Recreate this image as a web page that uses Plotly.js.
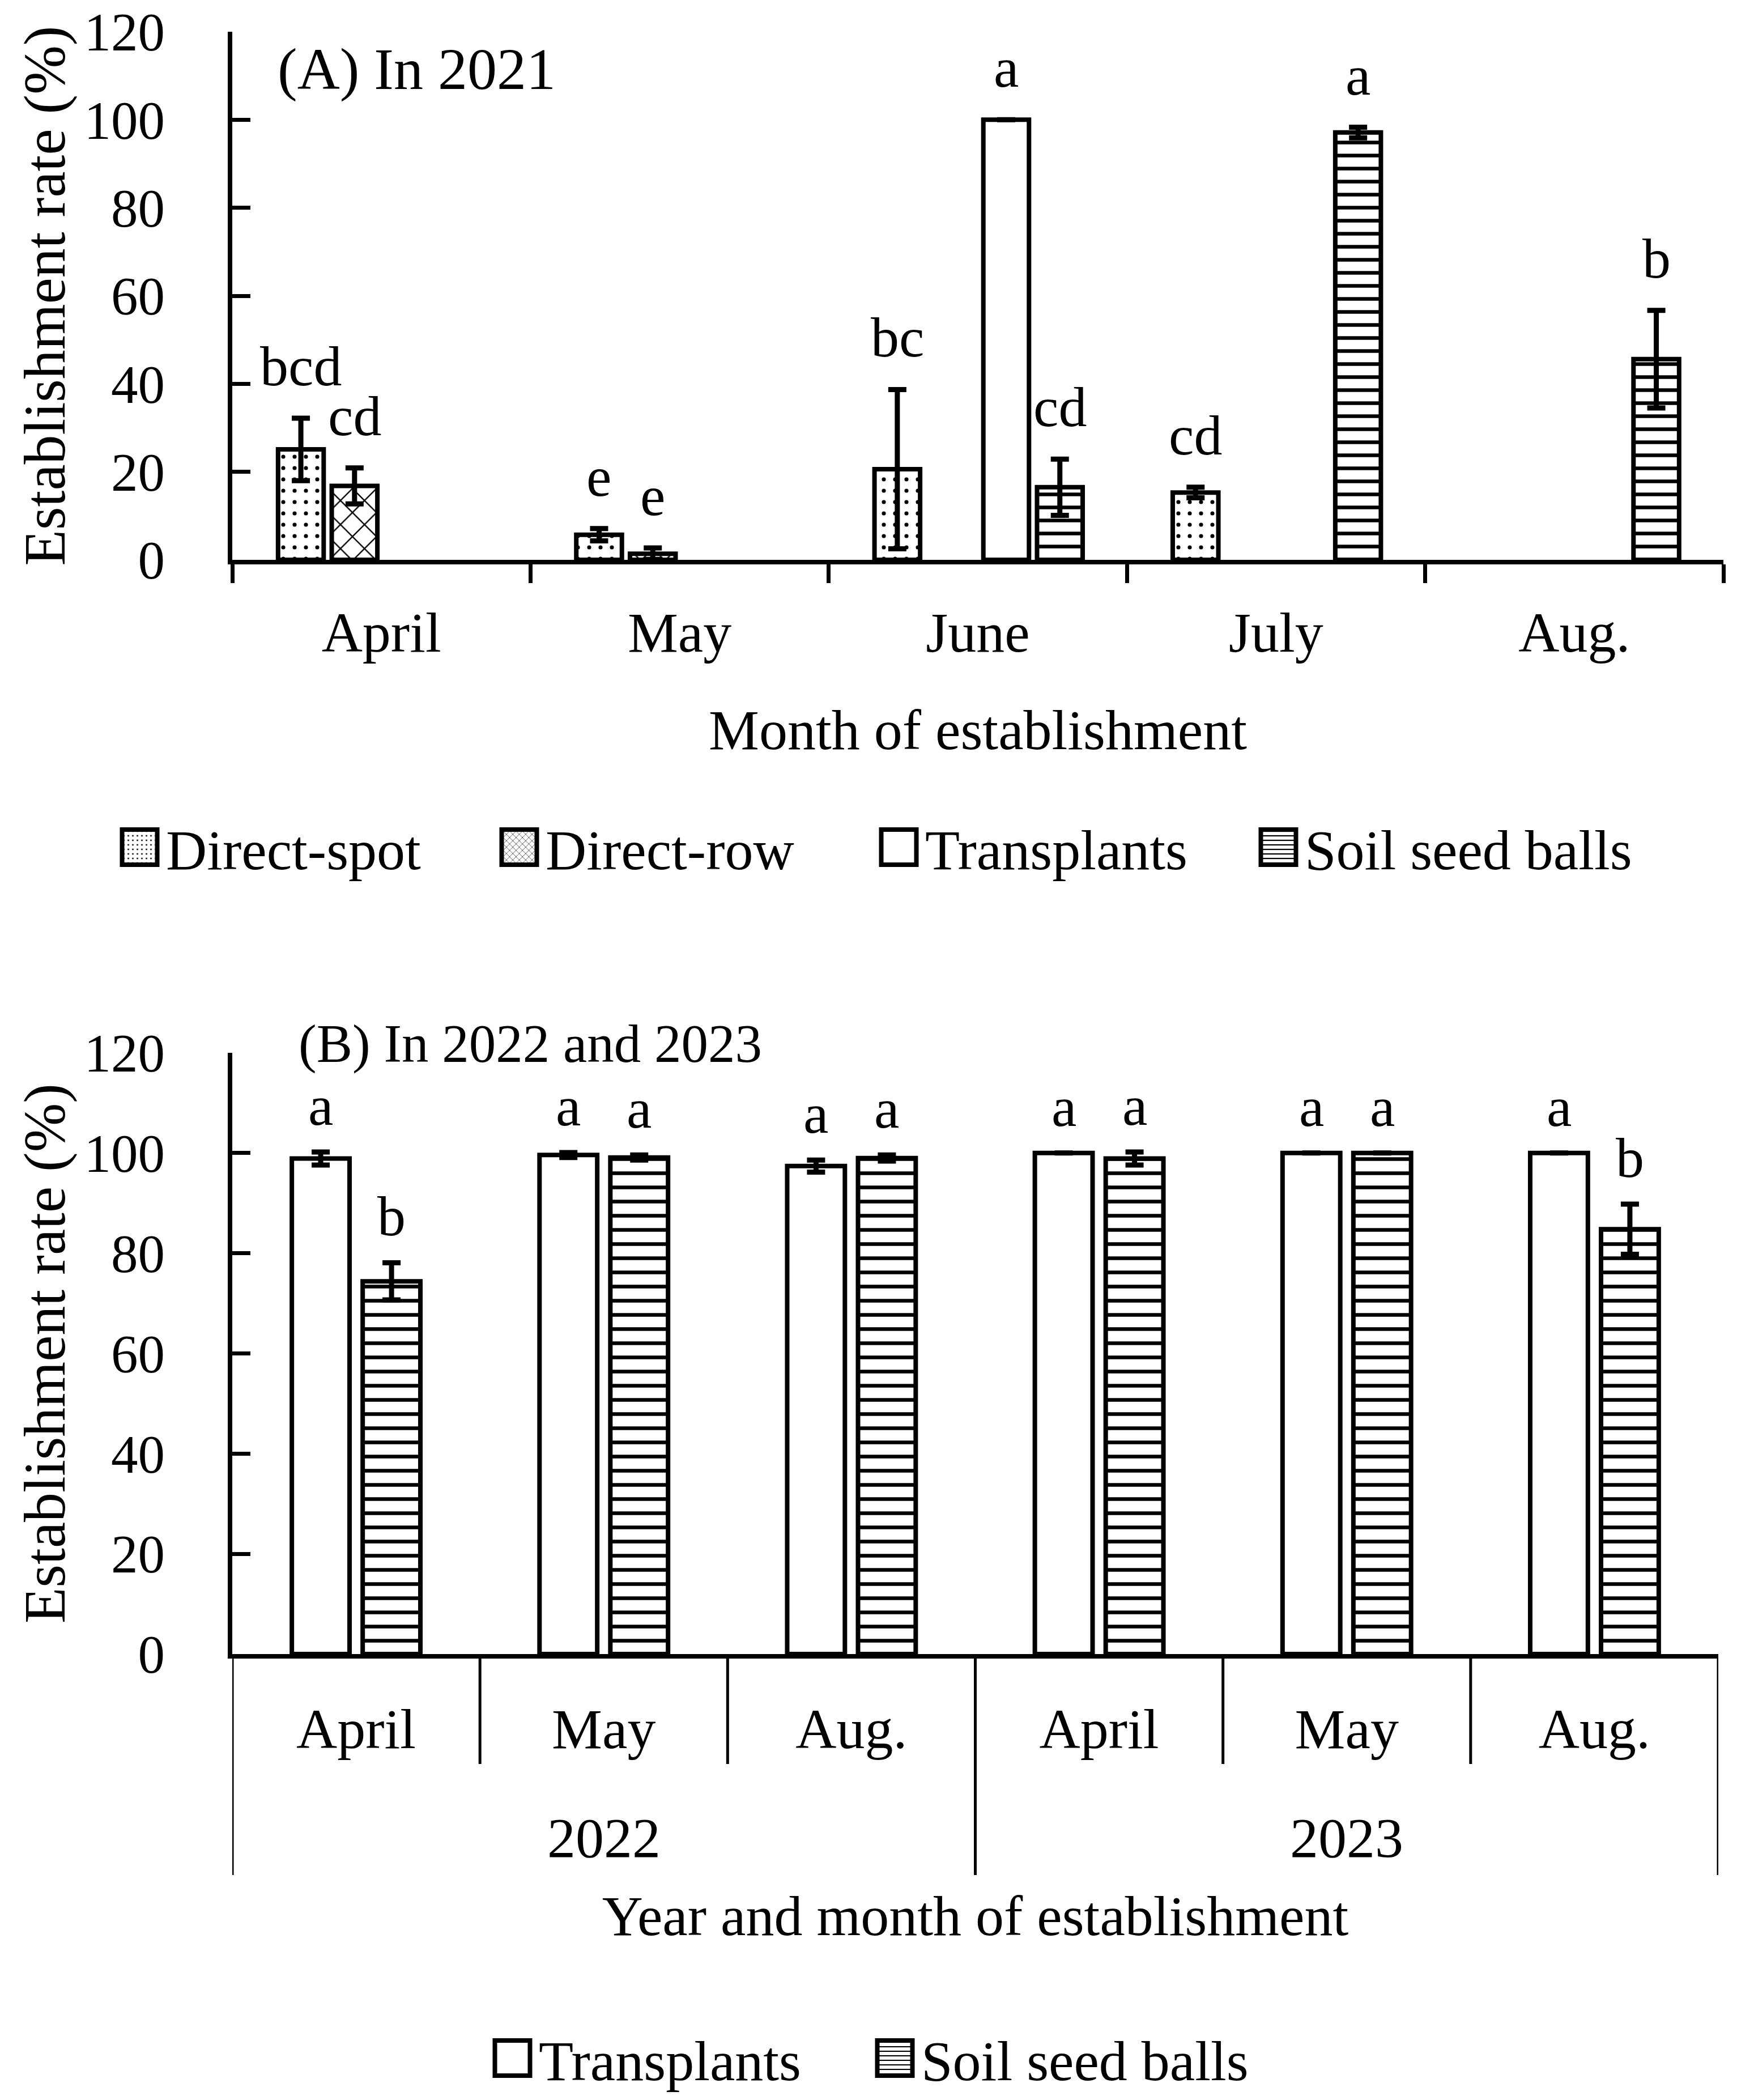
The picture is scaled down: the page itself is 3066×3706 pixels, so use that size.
<!DOCTYPE html>
<html><head><meta charset="utf-8">
<script src="https://cdn.plot.ly/plotly-3.0.1.min.js"></script>
<style>html,body{margin:0;padding:0;background:#fff;} #chart{width:3066px;height:3706px;}</style>
</head><body><div id="chart"></div>
<script>
// ---------- Panel A data (2021) ----------
const monthsA = ['April', 'May', 'June', 'July', 'Aug.'];
const spotA = [25.1, 5.7, 20.6, 15.3, null];
const spotErrA = [7.1, 1.4, 18.1, 1.2, null];
const rowA = [16.8, 1.4, null, null, null];
const rowErrA = [4.1, 1.3, null, null, null];
const transA = [null, null, 100, null, null];
const transErrA = [null, null, null, null, null];
const soilA = [null, null, 16.5, 97.1, 45.6];
const soilErrA = [null, null, 6.4, 1.2, 11.1];
const lettersSpotA = ['bcd', 'e', 'bc', 'cd', ''];
const lettersRowA = ['cd', 'e', '', '', ''];
const lettersTransA = ['', '', 'a', '', ''];
const lettersSoilA = ['', '', 'cd', 'a', 'b'];

// ---------- Panel B data (2022 and 2023) ----------
const yearsB = ['2022', '2022', '2022', '2023', '2023', '2023'];
const monthsB = ['April', 'May', 'Aug.', 'April', 'May', 'Aug.'];
const transB = [98.9, 99.6, 97.4, 100, 100, 100];
const transErrB = [1.3, 0.5, 1.2, null, null, null];
const soilB = [74.4, 99.1, 99.0, 98.9, 100, 84.8];
const soilErrB = [3.7, 0.5, 0.6, 1.3, null, 5.0];
const lettersTransB = ['a', 'a', 'a', 'a', 'a', 'a'];
const lettersSoilB = ['b', 'a', 'a', 'a', 'a', 'b'];

// ---------- styling ----------
const FONT = 'Liberation Serif';
const TXT = 100;
const NUM = 95;
const LW = 8;
const errStyle = {type: 'data', visible: true, color: 'black', thickness: 9, width: 16};

const patSpot = {shape: '.', size: 20, solidity: 0.1, fgcolor: 'black', bgcolor: 'white'};
const patRow = {shape: 'x', size: 30, solidity: 0.15, fgcolor: 'black', bgcolor: 'white'};
const patNone = {shape: '', fgcolor: 'black', bgcolor: 'white'};
const patSoilA = {shape: '-', size: 23, solidity: 0.28, fgcolor: 'black', bgcolor: 'white'};
const patSoilB = {shape: '-', size: 25, solidity: 0.26, fgcolor: 'black', bgcolor: 'white'};

const centersA = [-0.27, -0.09, 0.095, 0.275];
const widthA = 0.153;
const centersB = [-0.143, 0.143];
const widthB = 0.233;

function barTrace(name, x, y, err, center, width, pat, xa, ya, leg) {
  return {
    type: 'bar', name: name, x: x, y: y,
    offset: center - width / 2, width: width,
    marker: {color: 'white', line: {color: 'black', width: LW}, pattern: pat},
    error_y: Object.assign({array: err}, errStyle),
    xaxis: xa, yaxis: ya, legend: leg, showlegend: true,
    hoverinfo: 'skip'
  };
}

const idxB = monthsB.map((_, i) => i);

const data = [
  barTrace('Direct-spot', monthsA, spotA, spotErrA, centersA[0], widthA, patSpot, 'x', 'y', 'legend'),
  barTrace('Direct-row', monthsA, rowA, rowErrA, centersA[1], widthA, patRow, 'x', 'y', 'legend'),
  barTrace('Transplants', monthsA, transA, transErrA, centersA[2], widthA, patNone, 'x', 'y', 'legend'),
  barTrace('Soil seed balls', monthsA, soilA, soilErrA, centersA[3], widthA, patSoilA, 'x', 'y', 'legend'),
  barTrace('Transplants', idxB, transB, transErrB, centersB[0], widthB, patNone, 'x2', 'y2', 'legend2'),
  barTrace('Soil seed balls', idxB, soilB, soilErrB, centersB[1], widthB, patSoilB, 'x2', 'y2', 'legend2')
];

// ---------- annotations ----------
const annotations = [];
function addLetters(letters, vals, errs, center, xref, yref, shift) {
  letters.forEach((t, i) => {
    if (!t || vals[i] === null) return;
    annotations.push({
      xref: xref, yref: yref, x: i + center, y: vals[i] + (errs[i] || 0),
      yanchor: 'bottom', xanchor: 'center', yshift: shift, text: t, showarrow: false,
      font: {size: TXT, family: FONT, color: 'black'}
    });
  });
}
addLetters(lettersSpotA, spotA, spotErrA, centersA[0], 'x', 'y', 34);
addLetters(lettersRowA, rowA, rowErrA, centersA[1], 'x', 'y', 34);
addLetters(lettersTransA, transA, transErrA, centersA[2], 'x', 'y', 34);
addLetters(lettersSoilA, soilA, soilErrA, centersA[3], 'x', 'y', 34);
addLetters(lettersTransB, transB, transErrB, centersB[0], 'x2', 'y2', 24);
addLetters(lettersSoilB, soilB, soilErrB, centersB[1], 'x2', 'y2', 24);

annotations.push({xref: 'paper', yref: 'paper', x: 488 / 3066, y: 1 - 122 / 3706, xanchor: 'left', yanchor: 'middle',
  text: '(A) In 2021', showarrow: false, font: {size: 104, family: FONT, color: 'black'}});
annotations.push({xref: 'paper', yref: 'paper', x: 525 / 3066, y: 1 - 1842 / 3706, xanchor: 'left', yanchor: 'middle',
  text: '(B) In 2022 and 2023', showarrow: false, font: {size: 95, family: FONT, color: 'black'}});

// year labels + dividers for panel B
const axisYB = 1 - 2919 / 3706, monthBot = 1 - 3113 / 3706, yearBot = 1 - 3309 / 3706;
const uniqYears = [...new Set(yearsB)];
uniqYears.forEach(yr => {
  const ids = idxB.filter(i => yearsB[i] === yr);
  const mid = ids.reduce((a, b) => a + b, 0) / ids.length;
  annotations.push({xref: 'x2', yref: 'paper', x: mid, y: 1 - 3243 / 3706, yanchor: 'middle', xanchor: 'center',
    text: yr, showarrow: false, font: {size: TXT, family: FONT, color: 'black'}});
});
const shapes = [];
for (let i = 0; i <= monthsB.length; i++) {
  const yb = (i === 0 || i === monthsB.length || yearsB[i] !== yearsB[i - 1]);
  shapes.push({type: 'line', xref: 'x2', yref: 'paper', x0: i - 0.5, x1: i - 0.5, y0: axisYB, y1: yb ? yearBot : monthBot,
    line: {color: 'black', width: 5}});
}

const yCommon = {
  range: [0, 120], dtick: 20, tick0: 0, ticks: 'inside', ticklen: 32, tickwidth: 7, tickcolor: 'black',
  showline: true, linewidth: 8, linecolor: 'black', showgrid: false, zeroline: false,
  tickfont: {size: NUM, family: FONT, color: 'black'}, ticklabelstandoff: 92, fixedrange: true,
  title: {text: 'Establishment rate (%)', font: {size: 104, family: FONT, color: 'black'}, standoff: 2}
};

const layout = {
  width: 3066, height: 3706,
  margin: {l: 0, r: 0, t: 0, b: 0, pad: 0},
  paper_bgcolor: 'white', plot_bgcolor: 'white',
  font: {family: FONT, size: TXT, color: 'black'},
  barmode: 'overlay',
  xaxis: {
    domain: [410 / 3066, 3042 / 3066], anchor: 'y', type: 'category', range: [-0.5, 4.5],
    tickson: 'boundaries', ticks: 'outside', ticklen: 33, tickwidth: 7, tickcolor: 'black',
    showline: true, linewidth: 8, linecolor: 'black', showgrid: false, zeroline: false,
    tickfont: {size: TXT, family: FONT, color: 'black'}, ticklabelstandoff: 34, fixedrange: true,
    title: {text: 'Month of establishment', font: {size: TXT, family: FONT, color: 'black'}, standoff: 84}
  },
  yaxis: Object.assign({}, yCommon, {domain: [1 - 988 / 3706, 1 - 56 / 3706], anchor: 'x'}),
  xaxis2: {
    domain: [410 / 3066, 3033 / 3066], anchor: 'y2', type: 'linear', range: [-0.5, 5.5],
    tickvals: idxB, ticktext: monthsB, ticks: '',
    showline: true, linewidth: 8, linecolor: 'black', showgrid: false, zeroline: false,
    tickfont: {size: TXT, family: FONT, color: 'black'}, ticklabelstandoff: 38, fixedrange: true,
    title: {text: 'Year and month of establishment', font: {size: TXT, family: FONT, color: 'black'}, standoff: 242}
  },
  yaxis2: Object.assign({}, yCommon, {domain: [1 - 2919 / 3706, 1 - 1858 / 3706], anchor: 'x2'}),
  legend: {
    orientation: 'h', x: 200 / 3066, xanchor: 'left', y: 1 - 1495 / 3706, yanchor: 'middle',
    font: {size: TXT, family: FONT, color: 'black'}, itemwidth: 83, entrywidth: 572, entrywidthmode: 'pixels',
    bgcolor: 'rgba(0,0,0,0)', traceorder: 'normal'
  },
  legend2: {
    orientation: 'h', x: 858 / 3066, xanchor: 'left', y: 1 - 3632 / 3706, yanchor: 'middle',
    font: {size: TXT, family: FONT, color: 'black'}, itemwidth: 83, entrywidth: 577, entrywidthmode: 'pixels',
    bgcolor: 'rgba(0,0,0,0)', traceorder: 'normal'
  },
  annotations: annotations,
  shapes: shapes
};

Plotly.newPlot('chart', data, layout, {staticPlot: true, displayModeBar: false}).then(gd => {
  gd.querySelectorAll('g.legendpoints path').forEach(p => {
    p.setAttribute('d', 'M31,31H-31V-31H31Z');
    p.style.strokeWidth = '8px';
  });
});
</script>
</body></html>
